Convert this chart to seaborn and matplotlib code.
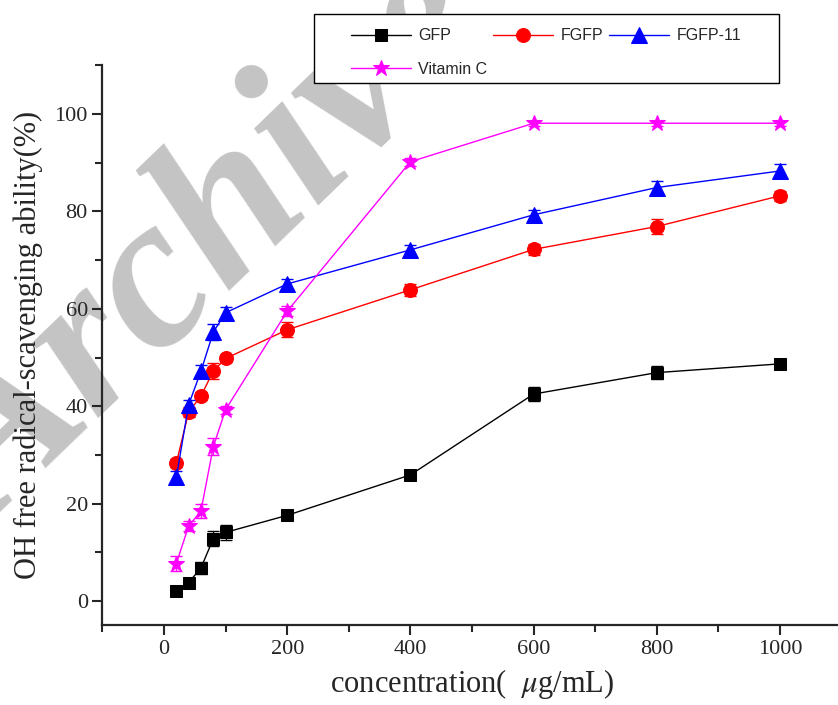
import numpy as np
import pandas as pd
import matplotlib
matplotlib.use("Agg")
import matplotlib.pyplot as plt
import seaborn as sns
from matplotlib.patches import Rectangle

# concentrations (ug/mL)
conc = [20, 40, 60, 80, 100, 200, 400, 600, 800, 1000]

gfp = [2.1, 3.8, 6.8, 12.8, 14.1, 17.6, 25.9, 42.5, 46.9, 48.7]
gfp_err = [0.4, 0.4, 1.2, 1.5, 1.5, 0.6, 0.6, 1.4, 1.3, 0.5]

fgfp = [28.3, 38.8, 42.1, 47.2, 49.8, 55.7, 63.9, 72.2, 76.9, 83.2]
fgfp_err = [0.8, 1.0, 0.8, 1.6, 0.8, 1.5, 1.2, 1.2, 1.5, 1.0]

fgfp11 = [25.4, 40.3, 47.2, 55.2, 59.2, 65.1, 72.1, 79.3, 84.9, 88.3]
fgfp11_err = [1.2, 1.0, 1.2, 1.6, 1.2, 1.0, 1.0, 1.0, 1.3, 1.5]

vitc = [7.7, 15.4, 18.5, 31.7, 39.3, 59.5, 90.2, 98.1, 98.1, 98.1]
vitc_err = [1.6, 1.0, 1.5, 1.8, 0.8, 1.0, 0.8, 0.5, 0.5, 0.5]

names = ["GFP", "FGFP", "FGFP-11", "Vitamin C"]
colors = ["black", "#ff0000", "#0000ff", "#ff00ff"]
markers = ["s", "o", "^", "*"]
msizes = [9, 10, 11.5, 12]

sns.set_style("ticks")
plt.rcParams["font.family"] = ["Liberation Serif", "DejaVu Serif"]
plt.rcParams["mathtext.fontset"] = "stix"

W, H = 838, 705
fig = plt.figure(figsize=(8.38, 7.05), dpi=100)
ax = fig.add_axes([0.1222, 0.1129, 0.8821, 0.7945])
ax.set_zorder(1)
ax.patch.set_alpha(0)

# watermark behind everything
fig.text(-0.008, 1 - 530 / H, "Archive of SID", rotation=44, rotation_mode="anchor",
         ha="left", va="baseline", fontsize=158, color="#c4c4c4",
         fontweight="bold", fontstyle="italic",
         family=["Liberation Serif", "DejaVu Serif"], zorder=0)

series = [(gfp, gfp_err), (fgfp, fgfp_err), (fgfp11, fgfp11_err), (vitc, vitc_err)]
for (vals, errs), name, c, m, ms in zip(series, names, colors, markers, msizes):
    df = pd.DataFrame({"conc": conc, "val": vals})
    sns.lineplot(data=df, x="conc", y="val", ax=ax, color=c, marker=m,
                 markersize=ms, markeredgecolor=c, linewidth=1.0, label=name,
                 legend=False)
    ax.errorbar(conc, vals, yerr=errs, fmt="none", ecolor=c, elinewidth=1.0,
                capsize=4.5, capthick=1.0)

# legend box drawn by hand so the inner padding can match
box = Rectangle((314 / W, 1 - 83 / H), 465 / W, 69 / H, transform=fig.transFigure,
                facecolor="white", edgecolor="black", linewidth=1.0, zorder=2)
ax.add_artist(box)
box.set_clip_on(False)

lines = [l for l in ax.get_lines() if l.get_label() in names]
order = [0, 3, 1, 2]
leg = ax.legend([lines[i] for i in order], [names[i] for i in order], ncol=3,
                loc="upper left", mode="expand",
                bbox_to_anchor=(351 / W, 1 - 89.5 / H, 390 / W, 61 / H),
                bbox_transform=fig.transFigure, frameon=False,
                handlelength=3.75, handletextpad=0.45, borderaxespad=0,
                borderpad=0, prop={"family": "Liberation Sans", "size": 11.5},
                labelspacing=1.13, columnspacing=1.0)
leg.set_zorder(3)

ax.set_xlim(-100, 1100)
ax.set_ylim(-5, 110)
ax.set_xticks([0, 200, 400, 600, 800, 1000])
ax.set_xticks(np.arange(-100, 1101, 100), minor=True)
ax.set_yticks([0, 20, 40, 60, 80, 100])
ax.set_yticks(np.arange(0, 111, 10), minor=True)
sns.despine(ax=ax)
for s in ["left", "bottom"]:
    ax.spines[s].set_linewidth(1.6)
ax.tick_params(which="major", length=7, width=1.5, labelsize=16, direction="out")
ax.tick_params(which="minor", length=5, width=1.5, direction="out")

ax.set_xlabel(r"concentration(  $\mu$g/mL)", fontsize=22, labelpad=6)
ax.set_ylabel("OH free radical-scavenging ability(%)", fontsize=22, labelpad=8)

fig.savefig("out.png", dpi=100)
